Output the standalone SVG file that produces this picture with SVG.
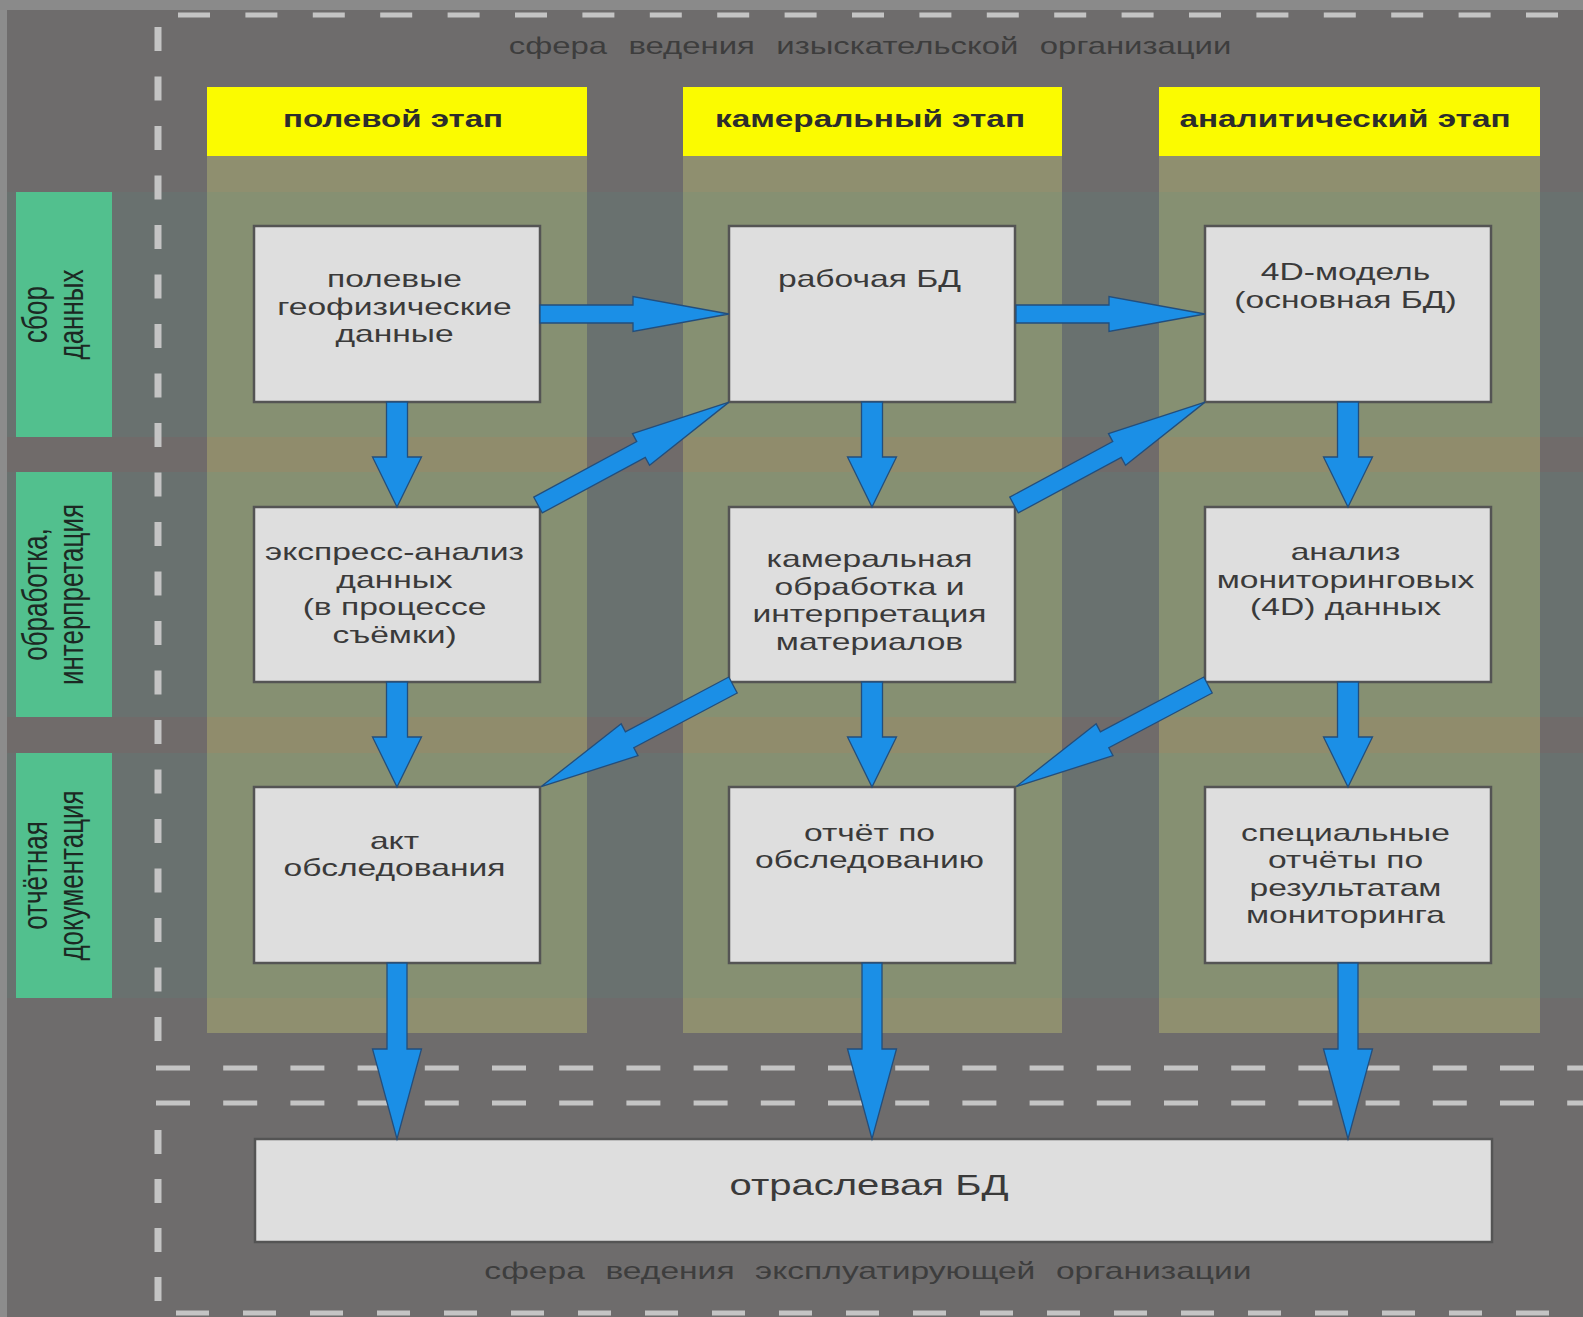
<svg xmlns="http://www.w3.org/2000/svg" width="1583" height="1317" viewBox="0 0 1583 1317">
<defs>
<style>
.t{font-family:"Liberation Sans",Arial,sans-serif;fill:#3a3a3a;font-size:24px;text-anchor:middle}
.hd{font-weight:bold;fill:#2c2c2c}
.lb{font-size:26px;fill:#1c2823}
.org{fill:#3d3d3d}
.box{fill:#dedede;stroke:#545454;stroke-width:2.5}
.hdr{fill:#fbfb00}
.col{fill:#8f8f6f}
.lab{fill:#52c08e}
.row{fill:rgb(70,160,140);fill-opacity:0.12}
.gap{fill:rgb(170,90,80);fill-opacity:0.055}
.arr{fill:#1b8fe6;stroke:#234e7c;stroke-width:1.3}
.dh{stroke:#c4c4c4;stroke-width:5;fill:none}
.dv{stroke:#c4c4c4;stroke-width:7;fill:none}
</style>
<path id="aH" d="M0,-9 H93 V-17.5 L189,0 L93,17.5 V9 H0 Z"/>
<path id="aV" d="M-10.5,0 V55 H-24.5 L0,105 L24.5,55 H10.5 V0 Z"/>
<path id="aL" d="M-10,0 V86 H-24.5 L0,176 L24.5,86 H10 V0 Z"/>
<path id="aD" d="M0,-9 H117 V-18 L217,0 L117,18 V9 H0 Z"/>
</defs>

<g id="background">
<rect x="0" y="0" width="1583" height="1317" fill="#6e6c6c"/>
<rect x="0" y="0" width="7" height="1317" fill="#8c8c8c"/>
<rect x="0" y="0" width="1583" height="10" fill="#8a8a8a"/>
<rect class="col" x="207" y="156" width="380" height="877"/>
<rect class="col" x="683" y="156" width="379" height="877"/>
<rect class="col" x="1159" y="156" width="381" height="877"/>
<rect class="row" x="7" y="192" width="1576" height="245"/>
<rect class="row" x="7" y="472" width="1576" height="245"/>
<rect class="row" x="7" y="753" width="1576" height="245"/>
<rect class="gap" x="7" y="437" width="1576" height="35"/>
<rect class="gap" x="7" y="717" width="1576" height="36"/>
</g>

<g id="dashes">
<line class="dh" x1="178" y1="15" x2="1583" y2="15" stroke-dasharray="32 35.4"/>
<line class="dv" x1="158" y1="27" x2="158" y2="1050" stroke-dasharray="24 25.5"/>
<line class="dh" x1="156" y1="1068" x2="1583" y2="1068" stroke-dasharray="34 33.2"/>
<line class="dh" x1="156" y1="1103" x2="1583" y2="1103" stroke-dasharray="34 33.2"/>
<line class="dv" x1="158" y1="1130" x2="158" y2="1305" stroke-dasharray="24 25"/>
<line class="dh" x1="176" y1="1313" x2="1583" y2="1313" stroke-dasharray="33 34"/>
</g>

<g id="org-top">
<text class="t org" transform="translate(870 54) scale(1.37 1)" x="0" y="0" word-spacing="9">сфера ведения изыскательской организации</text>
</g>
<g id="org-bottom">
<text class="t org" transform="translate(868 1279) scale(1.4 1)" x="0" y="0" word-spacing="8">сфера ведения эксплуатирующей организации</text>
</g>

<g id="hdr-field">
<rect class="hdr" x="207" y="87" width="380" height="69"/>
<text class="t hd" x="393" y="127" textLength="220" lengthAdjust="spacingAndGlyphs">полевой этап</text>
</g>
<g id="hdr-office">
<rect class="hdr" x="683" y="87" width="379" height="69"/>
<text class="t hd" x="870" y="127" textLength="310" lengthAdjust="spacingAndGlyphs">камеральный этап</text>
</g>
<g id="hdr-analytic">
<rect class="hdr" x="1159" y="87" width="381" height="69"/>
<text class="t hd" x="1345" y="127" textLength="331" lengthAdjust="spacingAndGlyphs">аналитический этап</text>
</g>

<g id="lab-collect">
<rect class="lab" x="16" y="192" width="96" height="245"/>
<text class="t lb" transform="translate(47 314.5) scale(1.35 1) rotate(-90)" x="0" y="0">сбор</text>
<text class="t lb" transform="translate(83 314.5) scale(1.35 1) rotate(-90)" x="0" y="0">данных</text>
</g>
<g id="lab-process">
<rect class="lab" x="16" y="472" width="96" height="245"/>
<text class="t lb" transform="translate(47 594.5) scale(1.35 1) rotate(-90)" x="0" y="0">обработка,</text>
<text class="t lb" transform="translate(83 594.5) scale(1.35 1) rotate(-90)" x="0" y="0">интерпретация</text>
</g>
<g id="lab-report">
<rect class="lab" x="16" y="753" width="96" height="245"/>
<text class="t lb" transform="translate(47 875.5) scale(1.35 1) rotate(-90)" x="0" y="0">отчётная</text>
<text class="t lb" transform="translate(83 875.5) scale(1.35 1) rotate(-90)" x="0" y="0">документация</text>
</g>

<g id="n-field-data">
<rect class="box" x="254" y="226" width="286" height="176"/>
<text class="t" transform="translate(394.5 0) scale(1.4 1)"><tspan x="0" y="287">полевые</tspan><tspan x="0" y="315">геофизические</tspan><tspan x="0" y="342">данные</tspan></text>
</g>
<g id="n-work-db">
<rect class="box" x="729" y="226" width="286" height="176"/>
<text class="t" transform="translate(869.5 0) scale(1.4 1)"><tspan x="0" y="287">рабочая БД</tspan></text>
</g>
<g id="n-4d-model">
<rect class="box" x="1205" y="226" width="286" height="176"/>
<text class="t" transform="translate(1345.5 0) scale(1.4 1)"><tspan x="0" y="280">4D-модель</tspan><tspan x="0" y="308">(основная БД)</tspan></text>
</g>
<g id="n-express">
<rect class="box" x="254" y="507" width="286" height="175"/>
<text class="t" transform="translate(394.5 0) scale(1.4 1)"><tspan x="0" y="560.5">экспресс-анализ</tspan><tspan x="0" y="588">данных</tspan><tspan x="0" y="615.5">(в процессе</tspan><tspan x="0" y="643">съёмки)</tspan></text>
</g>
<g id="n-office-proc">
<rect class="box" x="729" y="507" width="286" height="175"/>
<text class="t" transform="translate(869.5 0) scale(1.4 1)"><tspan x="0" y="567">камеральная</tspan><tspan x="0" y="595">обработка и</tspan><tspan x="0" y="622.5">интерпретация</tspan><tspan x="0" y="650">материалов</tspan></text>
</g>
<g id="n-monitoring">
<rect class="box" x="1205" y="507" width="286" height="175"/>
<text class="t" transform="translate(1345.5 0) scale(1.4 1)"><tspan x="0" y="560.5">анализ</tspan><tspan x="0" y="588">мониторинговых</tspan><tspan x="0" y="615.5">(4D) данных</tspan></text>
</g>
<g id="n-act">
<rect class="box" x="254" y="787" width="286" height="176"/>
<text class="t" transform="translate(394.5 0) scale(1.4 1)"><tspan x="0" y="849">акт</tspan><tspan x="0" y="876.5">обследования</tspan></text>
</g>
<g id="n-report">
<rect class="box" x="729" y="787" width="286" height="176"/>
<text class="t" transform="translate(869.5 0) scale(1.4 1)"><tspan x="0" y="841">отчёт по</tspan><tspan x="0" y="868.5">обследованию</tspan></text>
</g>
<g id="n-special">
<rect class="box" x="1205" y="787" width="286" height="176"/>
<text class="t" transform="translate(1345.5 0) scale(1.4 1)"><tspan x="0" y="841">специальные</tspan><tspan x="0" y="868.5">отчёты по</tspan><tspan x="0" y="896">результатам</tspan><tspan x="0" y="923">мониторинга</tspan></text>
</g>
<g id="n-industry-db">
<rect class="box" x="255" y="1139" width="1237" height="103"/>
<text class="t" style="font-size:29px" transform="translate(869 1195) scale(1.38 1)" x="0" y="0">отраслевая БД</text>
</g>

<g id="connectors">
<use href="#aH" class="arr" transform="translate(540 314)"/>
<use href="#aH" class="arr" transform="translate(1016 314)"/>
<use href="#aV" class="arr" transform="translate(397 402)"/>
<use href="#aV" class="arr" transform="translate(872 402)"/>
<use href="#aV" class="arr" transform="translate(1348 402)"/>
<use href="#aV" class="arr" transform="translate(397 682)"/>
<use href="#aV" class="arr" transform="translate(872 682)"/>
<use href="#aV" class="arr" transform="translate(1348 682)"/>
<use href="#aL" class="arr" transform="translate(397 963)"/>
<use href="#aL" class="arr" transform="translate(872 963)"/>
<use href="#aL" class="arr" transform="translate(1348 963)"/>
<use href="#aD" class="arr" transform="translate(538 505) rotate(-28.3)"/>
<use href="#aD" class="arr" transform="translate(1014 505) rotate(-28.3)"/>
<use href="#aD" class="arr" transform="translate(733 685) rotate(152.1)"/>
<use href="#aD" class="arr" transform="translate(1208 685) rotate(152.1)"/>
</g>
</svg>
